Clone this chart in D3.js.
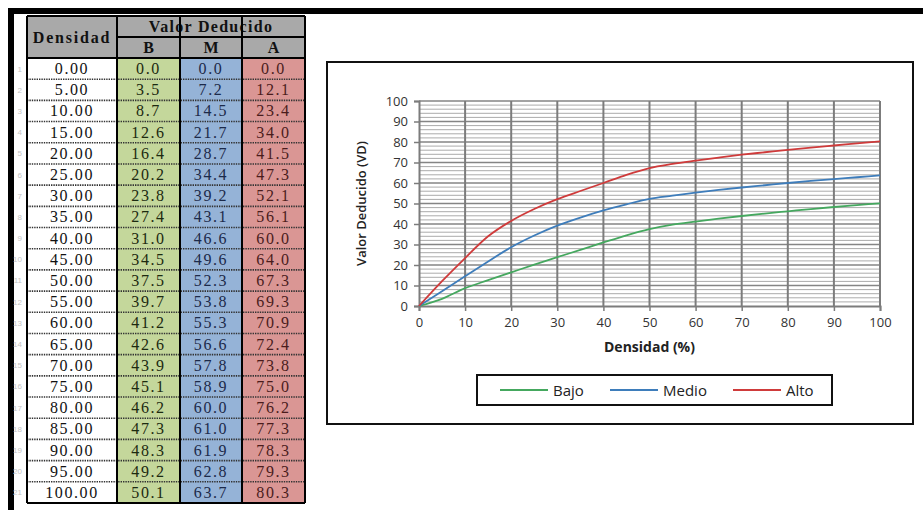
<!DOCTYPE html>
<html>
<head>
<meta charset="utf-8">
<script src="https://cdn.jsdelivr.net/npm/d3@7/dist/d3.min.js"></script>
<style>
  html, body { margin: 0; padding: 0; background: #fff; }
  svg { display: block; }
</style>
</head>
<body>
<svg id="root" width="923" height="510"></svg>
<script>
// Densidad (%) and deduct values for the three severity levels
const densidad = [0, 5, 10, 15, 20, 25, 30, 35, 40, 45, 50, 55, 60, 65, 70, 75, 80, 85, 90, 95, 100];
const bajo  = [0.0, 3.5, 8.7, 12.6, 16.4, 20.2, 23.8, 27.4, 31.0, 34.5, 37.5, 39.7, 41.2, 42.6, 43.9, 45.1, 46.2, 47.3, 48.3, 49.2, 50.1];
const medio = [0.0, 7.2, 14.5, 21.7, 28.7, 34.4, 39.2, 43.1, 46.6, 49.6, 52.3, 53.8, 55.3, 56.6, 57.8, 58.9, 60.0, 61.0, 61.9, 62.8, 63.7];
const alto  = [0.0, 12.1, 23.4, 34.0, 41.5, 47.3, 52.1, 56.1, 60.0, 64.0, 67.3, 69.3, 70.9, 72.4, 73.8, 75.0, 76.2, 77.3, 78.3, 79.3, 80.3];
const seriesNames = ["Bajo", "Medio", "Alto"];
const columnHeads = ["B", "M", "A"];
const xTicks = [0, 10, 20, 30, 40, 50, 60, 70, 80, 90, 100];
const yTicks = [0, 10, 20, 30, 40, 50, 60, 70, 80, 90, 100];

const svg = d3.select("#root");

// ---------- page frame ----------
svg.append("path")
  .attr("d", "M11,510 L11,11 L923,11")
  .attr("fill", "none").attr("stroke", "#000").attr("stroke-width", 6);

// ---------- table ----------
const tbl = { cols: [27, 117, 180, 242, 305], top: 16, headH: 21, rowTop: 58, rowH: 21.19 };
const serif = "'Liberation Serif', 'DejaVu Serif', serif";
const cellFills = ["#ffffff", "#c4d79b", "#95b3d7", "#da9694"];
const columns = [densidad.map(d => d.toFixed(2)), bajo.map(d => d.toFixed(1)), medio.map(d => d.toFixed(1)), alto.map(d => d.toFixed(1))];

const rowY = d3.scaleLinear().domain([0, densidad.length]).range([tbl.rowTop, tbl.rowTop + tbl.rowH * densidad.length]);
const tableBottom = rowY(densidad.length);

const gT = svg.append("g");
// header background
gT.append("rect").attr("x", tbl.cols[0]).attr("y", tbl.top)
  .attr("width", tbl.cols[4] - tbl.cols[0]).attr("height", tbl.rowTop - tbl.top)
  .attr("fill", "#a9a9a9");
// column fills
gT.selectAll("rect.col").data(cellFills).join("rect").attr("class", "col")
  .attr("x", (d, i) => tbl.cols[i]).attr("y", tbl.rowTop)
  .attr("width", (d, i) => tbl.cols[i + 1] - tbl.cols[i])
  .attr("height", tableBottom - tbl.rowTop)
  .attr("fill", d => d);

// dotted row separators
gT.selectAll("line.sep").data(d3.range(1, densidad.length)).join("line").attr("class", "sep")
  .attr("x1", tbl.cols[0]).attr("x2", tbl.cols[4])
  .attr("y1", d => rowY(d)).attr("y2", d => rowY(d))
  .attr("stroke", "#333").attr("stroke-width", 1.6).attr("stroke-dasharray", "1.4,1");

// header texts
gT.append("text").attr("x", (tbl.cols[0] + tbl.cols[1]) / 2).attr("y", (tbl.top + tbl.rowTop) / 2 + 5.5)
  .attr("text-anchor", "middle").attr("font-family", serif).attr("font-weight", "bold")
  .attr("font-size", 16).attr("letter-spacing", 1.8).attr("fill", "#111").text("Densidad");
gT.append("text").attr("x", (tbl.cols[1] + tbl.cols[4]) / 2).attr("y", tbl.top + tbl.headH / 2 + 5.5)
  .attr("text-anchor", "middle").attr("font-family", serif).attr("font-weight", "bold")
  .attr("font-size", 16).attr("letter-spacing", 1.3).attr("fill", "#111").text("Valor Deducido");
gT.selectAll("text.head").data(columnHeads).join("text").attr("class", "head")
  .attr("x", (d, i) => (tbl.cols[i + 1] + tbl.cols[i + 2]) / 2)
  .attr("y", tbl.top + tbl.headH * 1.5 + 5.5)
  .attr("text-anchor", "middle").attr("font-family", serif).attr("font-weight", "bold")
  .attr("font-size", 16).attr("fill", "#111").text(d => d);

// cell values
columns.forEach((col, ci) => {
  gT.selectAll("text.c" + ci).data(col).join("text").attr("class", "c" + ci)
    .attr("x", (tbl.cols[ci] + tbl.cols[ci + 1]) / 2)
    .attr("y", (d, i) => rowY(i + 0.5) + 5.5)
    .attr("text-anchor", "middle").attr("font-family", serif)
    .attr("font-size", 16).attr("letter-spacing", 1.6)
    .attr("fill", ["#111", "#1c2a10", "#1c2a4a", "#4a1c1c"][ci]).text(d => d);
});

// row numbers in the margin
gT.selectAll("text.rn").data(densidad).join("text").attr("class", "rn")
  .attr("x", 22).attr("y", (d, i) => rowY(i + 0.5) + 3)
  .attr("text-anchor", "end").attr("font-family", "'Liberation Sans', sans-serif")
  .attr("font-size", 8).attr("fill", "#c4c4c4").text((d, i) => i + 1);

// solid rules
const rules = [];
tbl.cols.forEach(x => rules.push([x, tbl.top, x, tableBottom]));
rules.push([tbl.cols[0], tbl.top, tbl.cols[4], tbl.top]);
rules.push([tbl.cols[1], tbl.top + tbl.headH, tbl.cols[4], tbl.top + tbl.headH]);
rules.push([tbl.cols[0], tbl.rowTop, tbl.cols[4], tbl.rowTop]);
rules.push([tbl.cols[0], tableBottom, tbl.cols[4], tableBottom]);
gT.selectAll("line.rule").data(rules).join("line").attr("class", "rule")
  .attr("x1", d => d[0]).attr("y1", d => d[1]).attr("x2", d => d[2]).attr("y2", d => d[3])
  .attr("stroke", "#000").attr("stroke-width", 2);

// ---------- chart ----------
const sans = "'Open Sans', 'Lato', sans-serif";
svg.append("rect").attr("x", 327).attr("y", 62).attr("width", 586).attr("height", 362)
  .attr("fill", "#fff").attr("stroke", "#111").attr("stroke-width", 2);

const plot = { left: 419, right: 880, top: 101, bottom: 306 };
const x = d3.scaleLinear().domain([0, 100]).range([plot.left, plot.right]);
const y = d3.scaleLinear().domain([0, 100]).range([plot.bottom, plot.top]);

const gC = svg.append("g");
// minor horizontal gridlines every 2
gC.selectAll("line.minor").data(d3.range(2, 100, 2).filter(v => v % 10 !== 0)).join("line").attr("class", "minor")
  .attr("x1", plot.left).attr("x2", plot.right)
  .attr("y1", d => y(d)).attr("y2", d => y(d))
  .attr("stroke", "#ababab").attr("stroke-width", 1);
// major horizontal gridlines
gC.selectAll("line.hmaj").data(yTicks.slice(1)).join("line").attr("class", "hmaj")
  .attr("x1", plot.left).attr("x2", plot.right)
  .attr("y1", d => y(d)).attr("y2", d => y(d))
  .attr("stroke", "#858585").attr("stroke-width", 1.6);
// vertical gridlines
gC.selectAll("line.vmaj").data(xTicks.slice(1)).join("line").attr("class", "vmaj")
  .attr("x1", d => x(d)).attr("x2", d => x(d))
  .attr("y1", plot.top).attr("y2", plot.bottom)
  .attr("stroke", "#7c7c7c").attr("stroke-width", 2);

// axes
const yAxis = gC.append("g").attr("transform", `translate(${plot.left},0)`)
  .call(d3.axisLeft(y).tickValues(yTicks).tickSize(5).tickPadding(6));
const xAxis = gC.append("g").attr("transform", `translate(0,${plot.bottom})`)
  .call(d3.axisBottom(x).tickValues(xTicks).tickSize(5).tickPadding(7));
[yAxis, xAxis].forEach(a => {
  a.select(".domain").attr("stroke", "#7c7c7c").attr("stroke-width", 2);
  a.selectAll(".tick line").attr("stroke", "#7c7c7c").attr("stroke-width", 1.5);
  a.selectAll(".tick text").attr("font-family", sans).attr("font-size", 13).attr("fill", "#333");
});

// series lines (smoothed)
const seriesData = [bajo, medio, alto];
const colors = ["#45a85f", "#3e7dbb", "#cf3b3b"];
const line = d3.line().x((d, i) => x(densidad[i])).y(d => y(d)).curve(d3.curveMonotoneX);
gC.selectAll("path.series").data(seriesData).join("path").attr("class", "series")
  .attr("d", line).attr("fill", "none")
  .attr("stroke", (d, i) => colors[i]).attr("stroke-width", 1.8);

// axis titles
gC.append("text").attr("x", (plot.left + plot.right) / 2).attr("y", 352)
  .attr("text-anchor", "middle").attr("font-family", sans).attr("font-weight", "bold")
  .attr("font-size", 14).attr("fill", "#222").text("Densidad (%)");
gC.append("text")
  .attr("transform", `translate(366,${(plot.top + plot.bottom) / 2}) rotate(-90)`)
  .attr("text-anchor", "middle").attr("font-family", sans).attr("font-weight", "600")
  .attr("font-size", 13).attr("fill", "#222").text("Valor Deducido (VD)");

// legend
const lg = svg.append("g");
lg.append("rect").attr("x", 477).attr("y", 375).attr("width", 355).attr("height", 30)
  .attr("fill", "#fff").attr("stroke", "#111").attr("stroke-width", 2);
const legendX = [500, 610, 733];
const items = lg.selectAll("g.item").data(seriesNames).join("g").attr("class", "item")
  .attr("transform", (d, i) => `translate(${legendX[i]},390)`);
items.append("line").attr("x1", 0).attr("x2", 48).attr("y1", 0).attr("y2", 0)
  .attr("stroke", (d, i) => colors[i]).attr("stroke-width", 2);
items.append("text").attr("x", 53).attr("y", 5.5).attr("font-family", sans)
  .attr("font-size", 15).attr("fill", "#222").text(d => d);
</script>
</body>
</html>
